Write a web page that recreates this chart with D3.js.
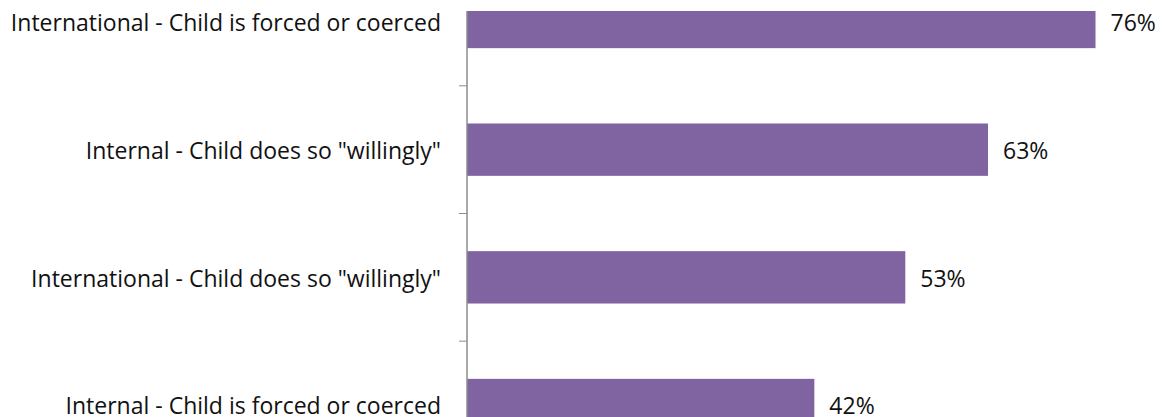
<!DOCTYPE html>
<html>
<head>
<meta charset="utf-8">
<script src="https://cdn.jsdelivr.net/npm/d3@7"></script>
<style>
  html, body { margin: 0; padding: 0; background: #fff; }
  svg { display: block; }
  text { font-family: "Open Sans", Lato, sans-serif; fill: #111; }
</style>
</head>
<body>
<svg id="chart" width="1165" height="417"></svg>
<script>
// Share of responses by trafficking type and circumstance
const categories = [
  "International - Child is forced or coerced",
  "Internal - Child does so \"willingly\"",
  "International - Child does so \"willingly\"",
  "Internal - Child is forced or coerced"
];
const values = [76, 63, 53, 42];
const valueLabels = ["76%", "63%", "53%", "42%"];

const width = 1165, height = 417;
const axisX = 467;        // left edge of plot area
const plotTop = 11;       // top of plot area

const svg = d3.select("#chart");

const x = d3.scaleLinear().domain([0, 100]).range([axisX, axisX + 827]);
const y = d3.scaleBand()
  .domain(categories)
  .range([-42.5, 469.5])
  .paddingInner(0.59)
  .paddingOuter(0.3);

// plot area clip
svg.append("defs").append("clipPath").attr("id", "plot")
  .append("rect")
  .attr("x", axisX).attr("y", plotTop)
  .attr("width", width - axisX).attr("height", height - plotTop);

// bars
svg.append("g").attr("clip-path", "url(#plot)")
  .selectAll("rect")
  .data(values)
  .join("rect")
  .attr("x", x(0))
  .attr("y", (d, i) => y(categories[i]))
  .attr("width", d => x(d) - x(0))
  .attr("height", y.bandwidth())
  .attr("fill", "#8064A2");

// category axis line and tick marks at band boundaries
const gAxis = svg.append("g");
gAxis.append("line")
  .attr("x1", axisX).attr("x2", axisX)
  .attr("y1", plotTop).attr("y2", height)
  .attr("stroke", "#8c8c8c").attr("stroke-width", 1.5);

const boundaries = categories.slice(1).map(c => y(c) - y.step() * y.paddingInner() / 2);
gAxis.selectAll("line.tick")
  .data(boundaries)
  .join("line")
  .attr("class", "tick")
  .attr("x1", axisX - 8).attr("x2", axisX)
  .attr("y1", d => d).attr("y2", d => d)
  .attr("stroke", "#8c8c8c").attr("stroke-width", 1);

// category labels
svg.append("g").selectAll("text")
  .data(categories)
  .join("text")
  .attr("x", axisX - 26)
  .attr("y", d => y(d) + y.bandwidth() / 2 + 1)
  .attr("dy", "0.36em")
  .attr("text-anchor", "end")
  .style("font-size", "23px")
  .text(d => d);

// value labels
svg.append("g").selectAll("text")
  .data(values)
  .join("text")
  .attr("x", d => x(d) + 15)
  .attr("y", (d, i) => y(categories[i]) + y.bandwidth() / 2 + 1)
  .attr("dy", "0.36em")
  .style("font-size", "23px")
  .text((d, i) => valueLabels[i]);
</script>
</body>
</html>
